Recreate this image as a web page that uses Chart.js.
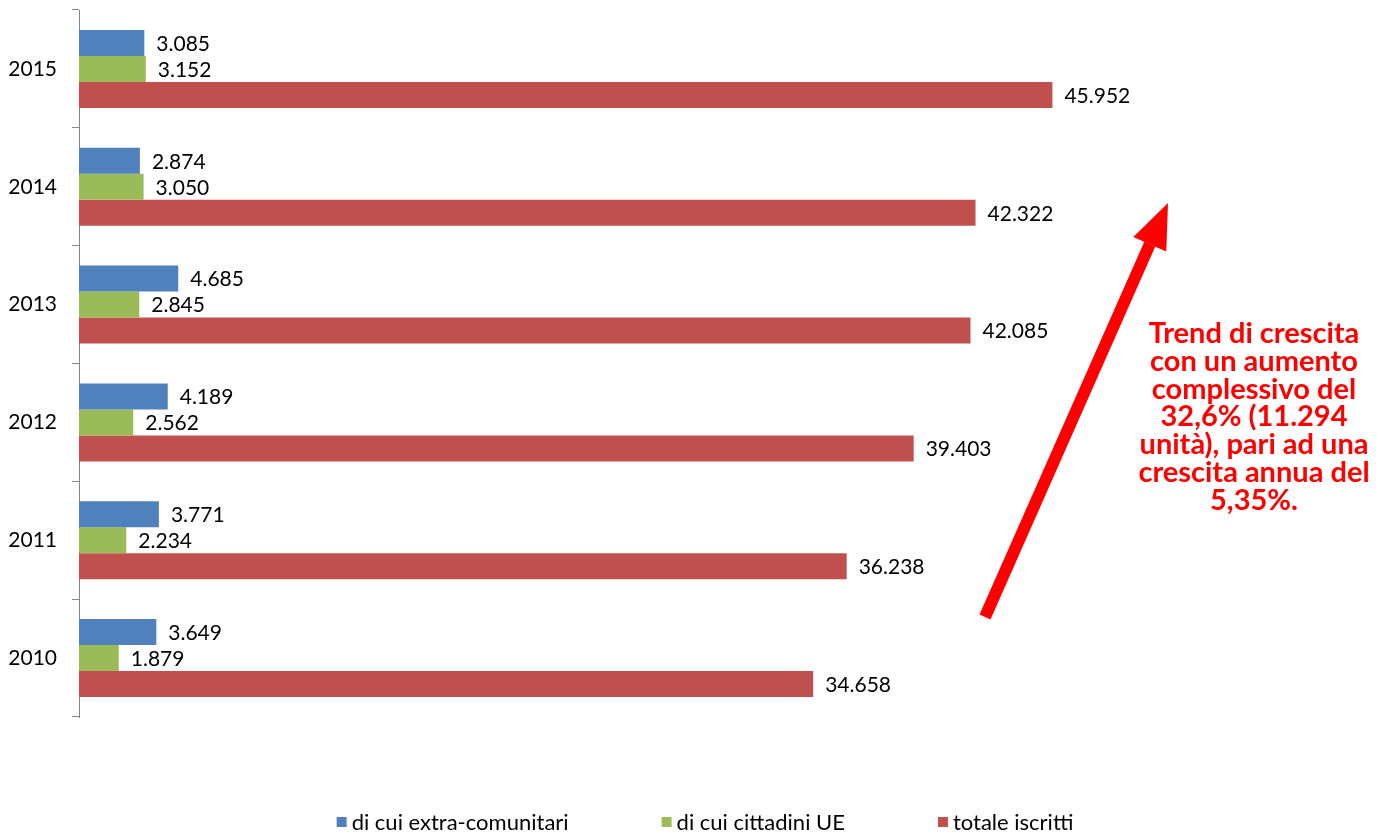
<!DOCTYPE html>
<html>
<head>
<meta charset="utf-8">
<script src="https://cdn.jsdelivr.net/npm/chart.js@4/dist/chart.umd.min.js"></script>
<style>
  html,body{margin:0;padding:0;background:#fff;}
  #wrap{width:1377px;height:833px;}
</style>
</head>
<body>
<div id="wrap"><canvas id="iscritti"></canvas></div>
<script>
var anni=['2015','2014','2013','2012','2011','2010'];
var extraComunitari=[3085,2874,4685,4189,3771,3649];
var cittadiniUE=[3152,3050,2845,2562,2234,1879];
var totaleIscritti=[45952,42322,42085,39403,36238,34658];
var nomiSerie=['di cui extra-comunitari','di cui cittadini UE','totale iscritti'];
var coloriSerie=['#4F81BD','#9BBB59','#C0504D'];
var testoTrend=['Trend di crescita','con un aumento','complessivo del','32,6% (11.294','unità), pari ad una','crescita annua del','5,35%.'];

var fontBase='Lato, "Liberation Sans", sans-serif';

var formatta=function(n){
    return String(n).replace(/\B(?=(\d{3})+(?!\d))/g,'.');
};

// etichette valore a destra di ogni barra
var etichette={
    id:'etichette',
    afterDatasetsDraw:function(chart){
        var ctx=chart.ctx;
        ctx.save();
        ctx.font='21px '+fontBase;
        ctx.fillStyle='#000';
        ctx.textBaseline='middle';
        ctx.textAlign='left';
        chart.data.datasets.forEach(function(ds,i){
            chart.getDatasetMeta(i).data.forEach(function(bar,k){
                ctx.fillText(formatta(ds.data[k]),bar.x+12,bar.y+1);
            });
        });
        ctx.restore();
    }
};

// legenda in basso, disegnata a mano per controllare le spaziature
var legenda={
    id:'legenda',
    afterDraw:function(chart){
        var ctx=chart.ctx,gap=93,box=10,y=822;
        ctx.save();
        ctx.font='22px '+fontBase;
        ctx.textBaseline='middle';
        ctx.textAlign='left';
        var larg=nomiSerie.map(function(t){return ctx.measureText(t).width;});
        var tot=0;
        larg.forEach(function(w){tot+=box+5+w;});
        tot+=gap*(nomiSerie.length-1);
        var x=705-tot/2;
        nomiSerie.forEach(function(t,i){
            ctx.fillStyle=coloriSerie[i];
            ctx.fillRect(x,y-box/2,box,box);
            ctx.fillStyle='#000';
            ctx.fillText(t,x+box+5,y+1);
            x+=box+5+larg[i]+gap;
        });
        ctx.restore();
    }
};

// freccia rossa e nota sul trend
var trend={
    id:'trend',
    afterDraw:function(chart){
        var ctx=chart.ctx,
            x0=985,y0=617,x1=1168,y1=203,
            ang=Math.atan2(y1-y0,x1-x0),
            lh=45,hw=18;
        var bx=x1-lh*Math.cos(ang),by=y1-lh*Math.sin(ang);
        ctx.save();
        ctx.strokeStyle='#FF0000';
        ctx.fillStyle='#FF0000';
        ctx.lineWidth=12;
        ctx.beginPath();
        ctx.moveTo(x0,y0);
        ctx.lineTo(bx,by);
        ctx.stroke();
        ctx.beginPath();
        ctx.moveTo(x1,y1);
        ctx.lineTo(bx+hw*Math.sin(ang),by-hw*Math.cos(ang));
        ctx.lineTo(bx-hw*Math.sin(ang),by+hw*Math.cos(ang));
        ctx.closePath();
        ctx.fill();
        ctx.font='bold 29px '+fontBase;
        ctx.textAlign='center';
        ctx.textBaseline='middle';
        for(var i=0;i<testoTrend.length;i++){
            ctx.fillText(testoTrend[i],1254,334+i*27.7);
        }
        ctx.restore();
    }
};

var datasets=[extraComunitari,cittadiniUE,totaleIscritti].map(function(valori,i){
    return {
        label:nomiSerie[i],
        data:valori,
        backgroundColor:coloriSerie[i],
        borderWidth:0,
        barPercentage:1,
        categoryPercentage:0.662
    };
});

Chart.defaults.font.family=fontBase;
Chart.defaults.color='#000';

new Chart(document.getElementById('iscritti'),{
    type:'bar',
    data:{labels:anni,datasets:datasets},
    options:{
        indexAxis:'y',
        responsive:true,
        maintainAspectRatio:false,
        animation:false,
        layout:{padding:{top:10,right:27,left:0,bottom:116}},
        plugins:{
            tooltip:{enabled:false},
            legend:{display:false}
        },
        scales:{
            x:{display:false,min:0,max:60000},
            y:{
                afterFit:function(scale){
                    scale.width=79;
                    scale.paddingTop=0;
                    scale.paddingBottom=0;
                },
                border:{display:true,color:'#868686',width:1},
                grid:{drawOnChartArea:false,drawTicks:true,tickLength:7,color:'#868686',offset:true},
                ticks:{font:{size:21},padding:15,color:'#000'}
            }
        }
    },
    plugins:[etichette,legenda,trend]
});
</script>
</body>
</html>
